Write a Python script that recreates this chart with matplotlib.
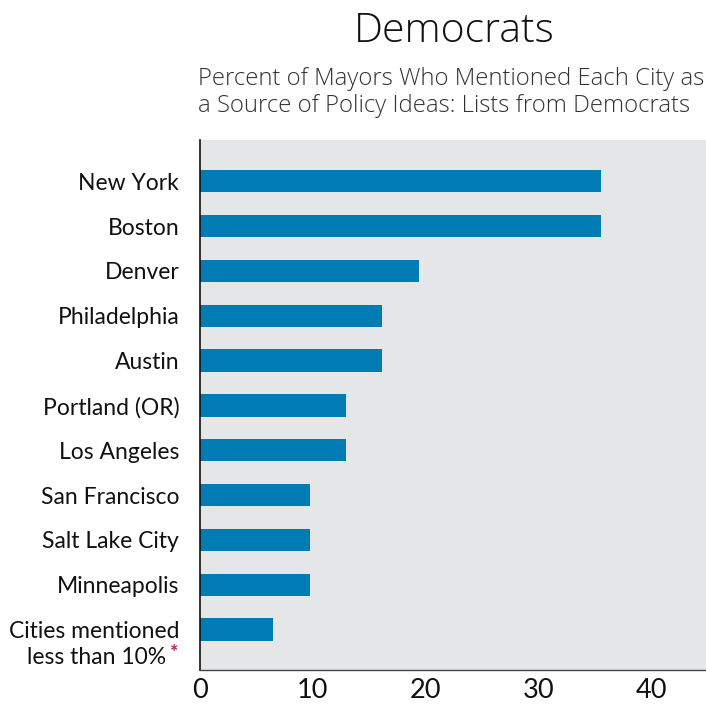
import matplotlib
matplotlib.use("Agg")
import matplotlib.pyplot as plt
import matplotlib.transforms as mtransforms

plt.rcParams["font.family"] = ["Lato", "DejaVu Sans"]

CITIES = [
    "New York",
    "Boston",
    "Denver",
    "Philadelphia",
    "Austin",
    "Portland (OR)",
    "Los Angeles",
    "San Francisco",
    "Salt Lake City",
    "Minneapolis",
    "Cities mentioned",
]

LAST_LINE = "less than 10%"

PERCENT = [35.5, 35.5, 19.4, 16.1, 16.1, 12.9, 12.9, 9.7, 9.7, 9.7, 6.5]

X_TICKS = [0, 10, 20, 30, 40]

BAR_COLOR = "#007bb3"
BG_COLOR = "#e5e6e8"
TEXT_COLOR = "#111111"
HEAD_FONT = ["Open Sans", "DejaVu Sans"]


def main():

    fig = plt.figure(figsize=(7.06, 7.04), dpi=100)

    ax = fig.add_axes([200 / 706, 1 - 670 / 704, 506 / 706, 530 / 704])

    ax.set_facecolor(BG_COLOR)

    positions = list(range(len(CITIES)))[::-1]

    ax.barh(positions, PERCENT, height=0.5, color=BAR_COLOR)

    ax.set_xlim(0, 44.8)
    ax.set_ylim(-0.9, len(CITIES) - 1 + 0.92)

    ax.set_yticks(positions)
    ax.set_yticklabels(CITIES, fontsize=16.5, color=TEXT_COLOR)
    ax.set_xticks(X_TICKS)
    ax.set_xticklabels([str(t) for t in X_TICKS], fontsize=19.5, color=TEXT_COLOR)

    ax.tick_params(axis="y", length=0, pad=15)
    ax.tick_params(axis="x", length=0, pad=6)

    ax.spines["top"].set_visible(False)
    ax.spines["right"].set_visible(False)
    ax.spines["left"].set_color(TEXT_COLOR)
    ax.spines["left"].set_linewidth(1.2)
    ax.spines["bottom"].set_color("#444444")
    ax.spines["bottom"].set_linewidth(1.0)

    # second line of the last label, with the red star after it
    yaxis_trans = ax.get_yaxis_transform()
    ax.text(
        0, 0, LAST_LINE,
        transform=yaxis_trans + mtransforms.ScaledTranslation(-0.34, -0.28, fig.dpi_scale_trans),
        ha="right", va="center", fontsize=16.5, color=TEXT_COLOR,
    )
    ax.text(
        0, 0, "*",
        transform=yaxis_trans + mtransforms.ScaledTranslation(-0.22, -0.23, fig.dpi_scale_trans),
        ha="right", va="center", fontsize=14, color="#c0145a", fontweight="bold",
    )

    fig.text(454 / 706, 1 - 42 / 704, "Democrats", ha="center", va="baseline",
             fontsize=29.5, color=TEXT_COLOR, family=HEAD_FONT, fontweight="light")
    fig.text(198 / 706, 1 - 85 / 704,
             "Percent of Mayors Who Mentioned Each City as",
             ha="left", va="baseline", fontsize=17.2, color="#333333",
             family=HEAD_FONT, fontweight="light")
    fig.text(198 / 706, 1 - 112.5 / 704,
             "a Source of Policy Ideas: Lists from Democrats",
             ha="left", va="baseline", fontsize=17.2, color="#333333",
             family=HEAD_FONT, fontweight="light")

    fig.savefig("out.png", dpi=100)


if __name__ == "__main__":
    main()
